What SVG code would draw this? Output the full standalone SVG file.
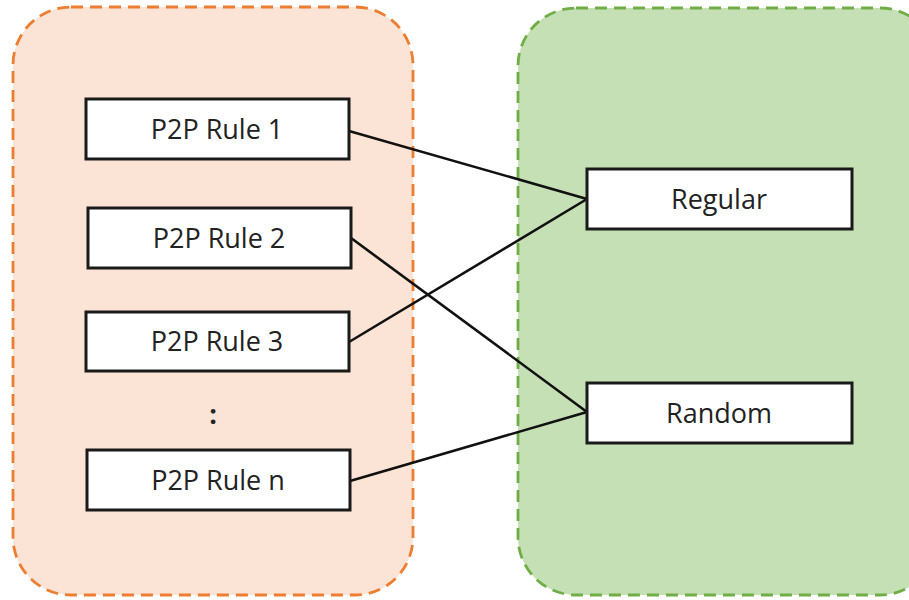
<svg xmlns="http://www.w3.org/2000/svg" width="909" height="600" viewBox="0 0 909 600">
<style>
.grp{stroke-width:2.8;stroke-dasharray:12 7}
.box{fill:#fff;stroke:#1a1a1a;stroke-width:3}
.lbl{font-family:"Open Sans","Noto Sans",sans-serif;font-size:27px;fill:#222;text-anchor:middle;dominant-baseline:central}
.edge{stroke:#111;stroke-width:2.6;fill:none}
</style>
<rect width="909" height="600" fill="#fff"/>
<g id="left-group"><rect class="grp" x="13" y="7" width="400" height="588" rx="58" fill="#FBE4D5" stroke="#ED7D31"/></g>
<g id="right-group"><rect class="grp" x="518" y="8" width="420" height="587" rx="58" fill="#C5E0B4" stroke="#70AD47"/></g>
<g id="connectors">
<line class="edge" x1="349" y1="131" x2="587" y2="199"/>
<line class="edge" x1="351" y1="238" x2="587" y2="412"/>
<line class="edge" x1="349" y1="342" x2="587" y2="199"/>
<line class="edge" x1="350" y1="481" x2="587" y2="412"/>
</g>
<g id="rule1"><rect class="box" x="86" y="99" width="263" height="60"/><text class="lbl" x="217" y="128">P2P Rule 1</text></g>
<g id="rule2"><rect class="box" x="88" y="208" width="263" height="60"/><text class="lbl" x="219" y="237">P2P Rule 2</text></g>
<g id="rule3"><rect class="box" x="86" y="312" width="263" height="59"/><text class="lbl" x="217" y="340">P2P Rule 3</text></g>
<g id="dots"><text class="lbl" x="213" y="413" font-weight="bold">:</text></g>
<g id="rulen"><rect class="box" x="87" y="450" width="263" height="60"/><text class="lbl" x="218" y="479">P2P Rule n</text></g>
<g id="regular"><rect class="box" x="587" y="169" width="265" height="60"/><text class="lbl" x="719" y="198">Regular</text></g>
<g id="random"><rect class="box" x="587" y="383" width="265" height="60"/><text class="lbl" x="719" y="412">Random</text></g>
</svg>
